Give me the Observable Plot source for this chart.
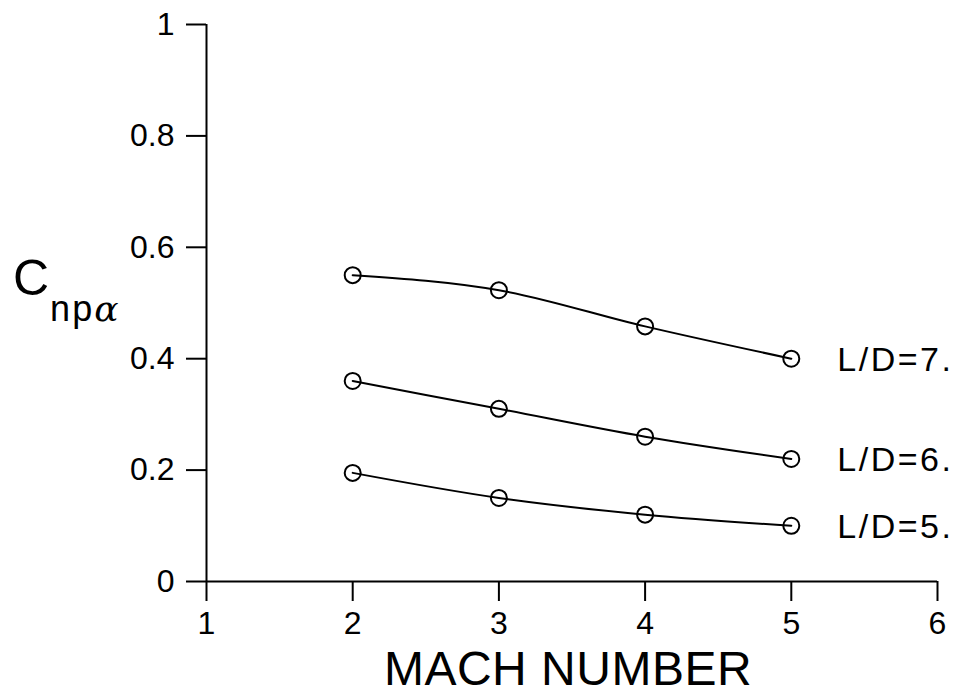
<!DOCTYPE html>
<html>
<head>
<meta charset="utf-8">
<script src="https://cdn.jsdelivr.net/npm/d3@7"></script>
<script src="https://cdn.jsdelivr.net/npm/@observablehq/plot@0.6"></script>
<style>
  html, body { margin: 0; padding: 0; background: #fff; }
  #chart svg [aria-label$="tick"] { stroke-width: 2px; }
  #chart svg .ldlab text { letter-spacing: 2.5px; }
  #chart svg .xtitle text { letter-spacing: 0.5px; }
</style>
</head>
<body>
<div id="chart"></div>
<script>
// ---- data ----
const mach = [2, 3, 4, 5];
const ld7 = [0.55, 0.523, 0.458, 0.40];
const ld6 = [0.36, 0.31, 0.26, 0.22];
const ld5 = [0.195, 0.15, 0.12, 0.10];
const seriesLabels = ["L/D=7.", "L/D=6.", "L/D=5."];
const xTicks = [1, 2, 3, 4, 5, 6];
const yTicks = [0, 0.2, 0.4, 0.6, 0.8, 1];
const xTitle = "MACH NUMBER";

const seriesValues = [ld7, ld6, ld5];
const rows = [];
seriesValues.forEach((vals, s) => {
  vals.forEach((v, i) => rows.push({series: seriesLabels[s], mach: mach[i], c: v}));
});
const lastRows = rows.filter(d => d.mach === mach[mach.length - 1]);

const font = "'Liberation Sans', Arial, Helvetica, sans-serif";

const plot = Plot.plot({
  width: 968,
  height: 698,
  marginLeft: 206,
  marginRight: 31,
  marginTop: 24,
  marginBottom: 117,
  style: {fontSize: "32px", fontFamily: font, color: "black", background: "white", overflow: "visible"},
  x: {domain: [1, 6]},
  y: {domain: [0, 1]},
  marks: [
    Plot.axisX({ticks: xTicks, tickSize: 20, tickPadding: 10, label: null, fontSize: 32,
                strokeWidth: 2, tickFormat: d => String(d)}),
    Plot.axisY({ticks: yTicks, tickSize: 20, tickPadding: 12, label: null, fontSize: 32,
                strokeWidth: 2, tickFormat: d => String(+d.toFixed(1))}),
    Plot.ruleX([1], {stroke: "black", strokeWidth: 2}),
    Plot.ruleY([0], {stroke: "black", strokeWidth: 2}),
    Plot.line(rows, {x: "mach", y: "c", z: "series", curve: "monotone-x", stroke: "black", strokeWidth: 2}),
    Plot.dot(rows, {x: "mach", y: "c", r: 8, stroke: "black", strokeWidth: 2, fill: "none"}),
    Plot.text(lastRows, {x: "mach", y: "c", text: "series", textAnchor: "start", dx: 46, dy: 1,
                         fontSize: 34, fill: "black", className: "ldlab"}),
    Plot.text([xTitle], {frameAnchor: "bottom", dx: -4, dy: 103, fontSize: 48, fill: "black", className: "xtitle"})
  ]
});

// y-axis title with subscripts: C_{npα}
const svg = d3.select(plot);
const t = svg.append("text")
  .attr("x", 13)
  .attr("y", 295)
  .attr("text-anchor", "start")
  .attr("font-family", font)
  .attr("font-size", 50)
  .attr("fill", "black");
t.append("tspan").text("C");
t.append("tspan").attr("font-size", 36).attr("dy", 26).attr("dx", 1).text("n");
t.append("tspan").attr("font-size", 36).attr("dx", 2).text("p");
t.append("tspan").attr("font-size", 36).attr("dx", 2).attr("font-style", "italic")
  .attr("font-family", "'DejaVu Serif', serif").text("α");

document.getElementById("chart").appendChild(plot);
</script>
</body>
</html>
